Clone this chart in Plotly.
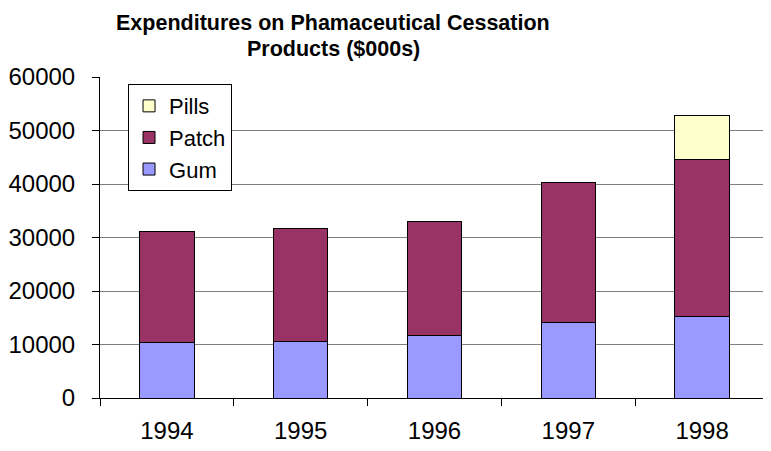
import plotly.graph_objects as go

years = ["1994", "1995", "1996", "1997", "1998"]
gum = [10360, 10600, 11600, 14100, 15160]
patch = [20740, 21000, 21380, 26200, 29400]
pills = [0, 0, 0, 0, 8240]
y_ticks = [0, 10000, 20000, 30000, 40000, 50000, 60000]
title_lines = ["Expenditures on Phamaceutical Cessation", "Products ($000s)"]

FONT = "Arial, Liberation Sans, sans-serif"

fig = go.Figure()
line = dict(color="black", width=1)
fig.add_trace(go.Bar(name="Gum", x=years, y=gum, marker=dict(color="#9999FF", line=line)))
fig.add_trace(go.Bar(name="Patch", x=years, y=patch, marker=dict(color="#993366", line=line)))
fig.add_trace(go.Bar(name="Pills", x=years, y=pills, marker=dict(color="#FFFFCC", line=line)))

# page body has an 8px default margin, so the figure is offset by 8px
fig.update_layout(
    barmode="stack",
    bargap=0.594,
    width=763, height=443,
    margin=dict(l=92, r=2, t=69, b=53, autoexpand=False),
    paper_bgcolor="white", plot_bgcolor="white",
    font=dict(family=FONT, size=22, color="black"),
    showlegend=True,
    legend=dict(
        x=0.0419, y=0.978, xanchor="left", yanchor="top",
        traceorder="reversed",
        bgcolor="white", bordercolor="black", borderwidth=1,
        font=dict(size=22, family=FONT),
        itemwidth=30,
    ),
    xaxis=dict(
        type="category",
        showline=True, linecolor="black", linewidth=1,
        ticks="outside", ticklen=7, tickcolor="black",
        tickson="boundaries",
        showgrid=False,
        tickfont=dict(size=24, family=FONT),
        ticklabelstandoff=11,
        automargin=False,
    ),
    yaxis=dict(
        range=[0, 60000],
        tickvals=y_ticks,
        ticktext=[str(v) for v in y_ticks],
        showline=True, linecolor="black", linewidth=1,
        ticks="outside", ticklen=7, tickcolor="black",
        showgrid=True, gridcolor="#808080", gridwidth=1,
        zeroline=False,
        tickfont=dict(size=24, family=FONT),
        ticklabelstandoff=12,
        automargin=False,
    ),
    annotations=[
        dict(text="<b>%s</b>" % title_lines[0], xref="paper", yref="paper",
             x=0.3483, y=1, xanchor="center", yanchor="middle", yshift=54,
             showarrow=False, font=dict(size=21.5, family=FONT, color="black")),
        dict(text="<b>%s</b>" % title_lines[1], xref="paper", yref="paper",
             x=0.3483, y=1, xanchor="center", yanchor="middle", yshift=28,
             showarrow=False, font=dict(size=21.5, family=FONT, color="black")),
    ],
)
fig.add_shape(type="line", xref="paper", yref="paper", x0=1, x1=1, y0=0, y1=1,
              line=dict(color="#808080", width=1))

fig.write_html("out.html")
